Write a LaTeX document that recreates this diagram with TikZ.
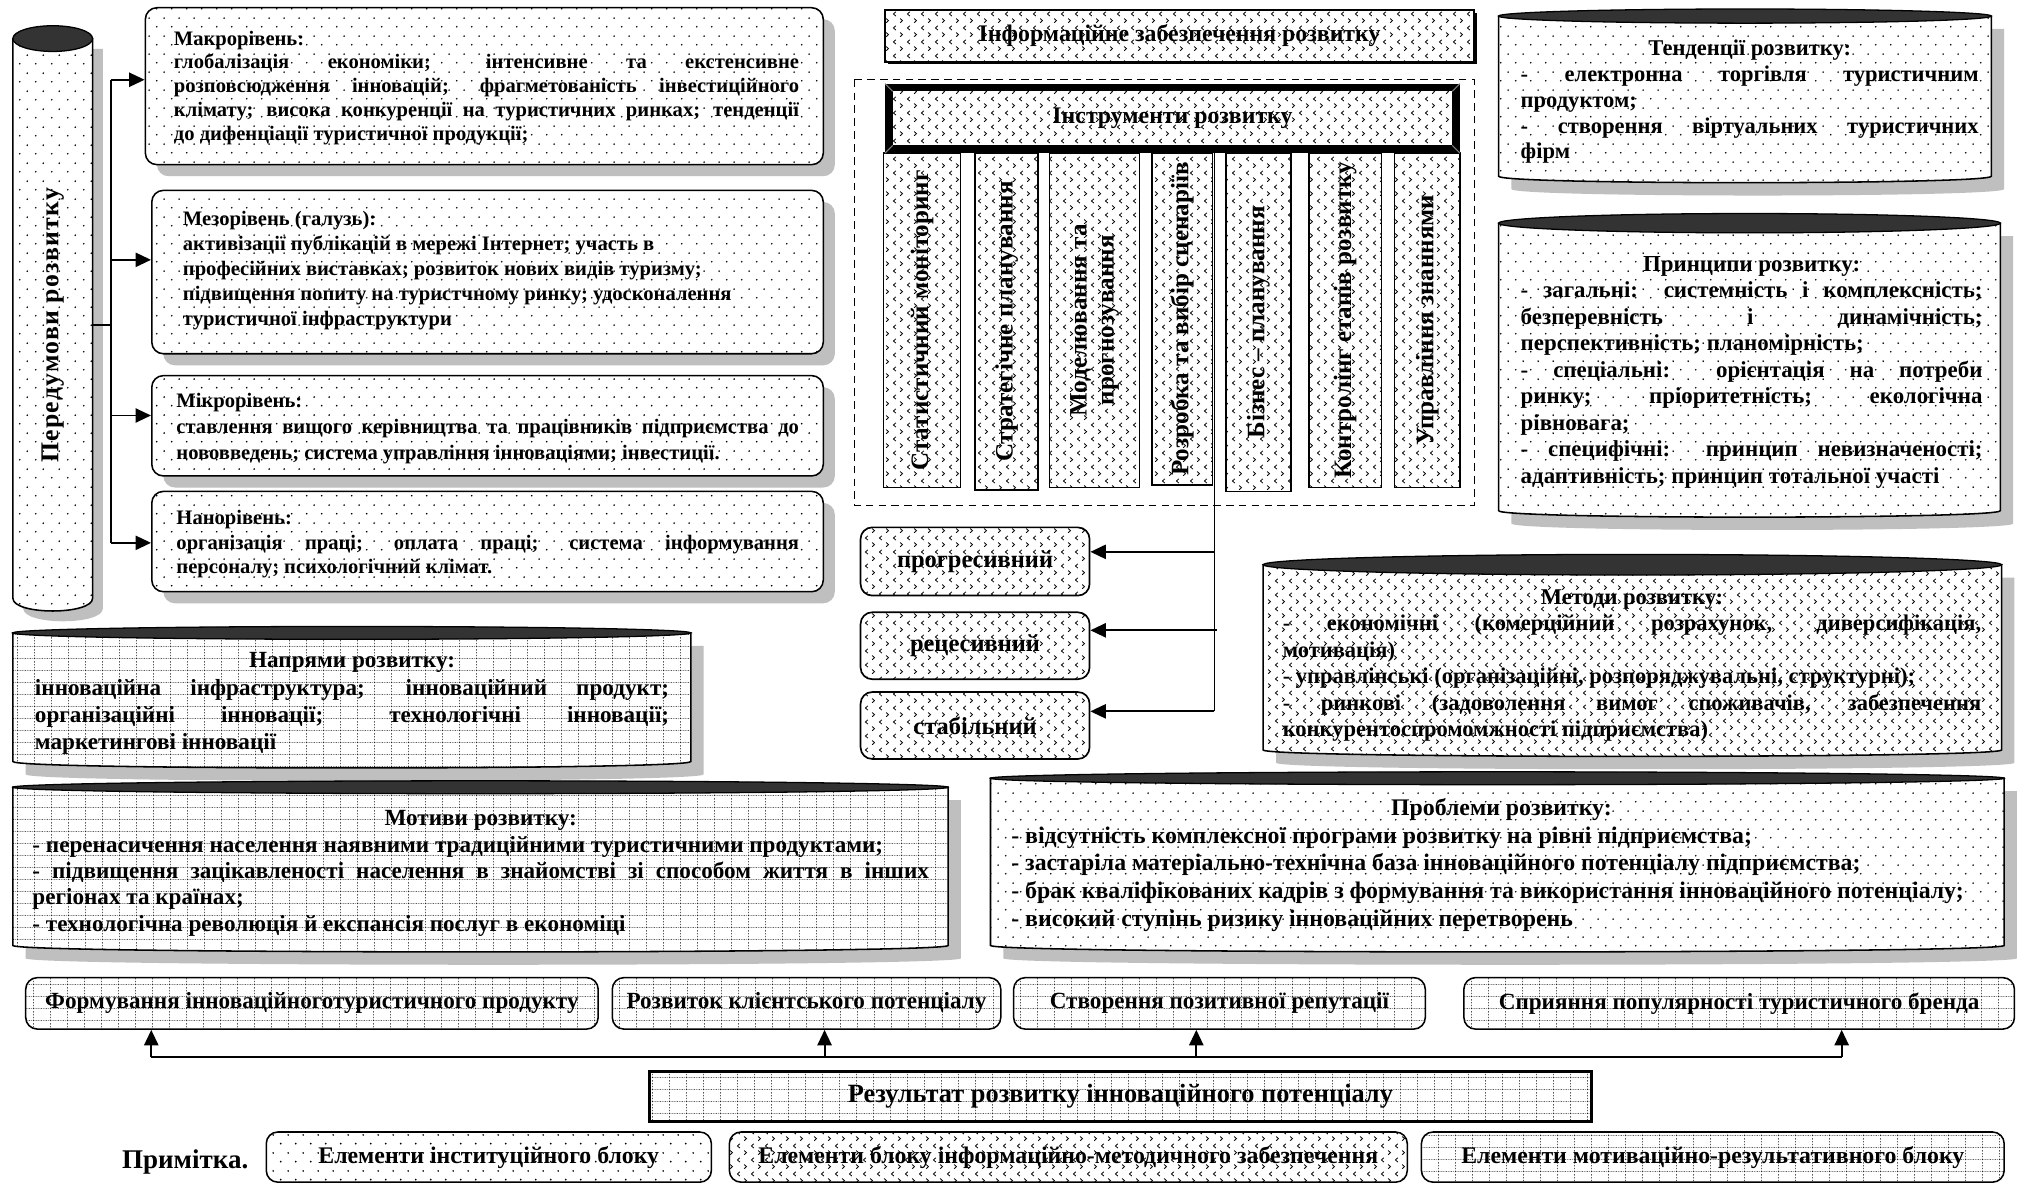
\documentclass[tikz,border=0pt]{standalone}
\usepackage{fontspec}
\setmainfont{Liberation Serif}
\usetikzlibrary{patterns,arrows.meta,shadows}
\definecolor{shadowgray}{gray}{0.75}
\definecolor{topdark}{gray}{0.2}
\newcommand{\fsz}[2]{\fontsize{#1pt}{#2pt}\selectfont}
\newcommand{\jtext}[2]{\parbox[t]{#1pt}{\setlength{\parindent}{0pt}\setlength{\parfillskip}{0pt plus 1fil}\hbadness=10000 #2}}
\pgfdeclarepatternformonly{dotpat}{\pgfqpoint{0pt}{0pt}}{\pgfqpoint{12pt}{14pt}}{\pgfqpoint{12pt}{14pt}}{%
  \pgfpathcircle{\pgfqpoint{3pt}{3.5pt}}{0.75pt}%
  \pgfpathcircle{\pgfqpoint{9pt}{10.5pt}}{0.75pt}%
  \pgfusepath{fill}}
\pgfdeclarepatternformonly{divot}{\pgfqpoint{0pt}{0pt}}{\pgfqpoint{11pt}{11pt}}{\pgfqpoint{11pt}{11pt}}{%
  \pgfsetlinewidth{0.65pt}%
  \pgfpathmoveto{\pgfqpoint{4pt}{10pt}}\pgfpathlineto{\pgfqpoint{2pt}{8.25pt}}\pgfpathlineto{\pgfqpoint{4pt}{6.5pt}}%
  \pgfpathmoveto{\pgfqpoint{7.5pt}{4.5pt}}\pgfpathlineto{\pgfqpoint{9.5pt}{2.75pt}}\pgfpathlineto{\pgfqpoint{7.5pt}{1pt}}%
  \pgfusepath{stroke}}
\pgfdeclarepatternformonly{dgrid}{\pgfqpoint{0pt}{0pt}}{\pgfqpoint{13pt}{9pt}}{\pgfqpoint{13pt}{9pt}}{%
  \pgfsetlinewidth{0.55pt}%
  \pgfsetdash{{0.6pt}{0.7pt}}{0pt}%
  \pgfpathmoveto{\pgfqpoint{0pt}{0.5pt}}\pgfpathlineto{\pgfqpoint{13pt}{0.5pt}}%
  \pgfusepath{stroke}%
  \pgfsetdash{{1.1pt}{1.15pt}}{0pt}%
  \pgfpathmoveto{\pgfqpoint{0.5pt}{0pt}}\pgfpathlineto{\pgfqpoint{0.5pt}{9pt}}%
  \pgfusepath{stroke}}
\newcommand{\drum}[6]{%
  \pgfmathsetmacro{\dcx}{(#1+#3)/2}%
  \pgfmathsetmacro{\drx}{(#3-#1)/2}%
  \pgfmathsetmacro{\dyt}{#2+#6}%
  \pgfmathsetmacro{\dyb}{#4-5}%
  \pgfmathsetmacro{\dyc}{#4+1.67}%
  \fill[shadowgray, xshift=10pt, yshift=-10pt] (#1,\dyt) -- (#1,\dyb) .. controls (#1,\dyc) and (#3,\dyc) .. (#3,\dyb) -- (#3,\dyt) -- cycle;
  \path[draw, line width=1.2pt, preaction={fill=white}, pattern=#5] (#1,\dyt) -- (#1,\dyb) .. controls (#1,\dyc) and (#3,\dyc) .. (#3,\dyb) -- (#3,\dyt) -- cycle;
  \filldraw[fill=topdark, line width=1pt] (\dcx,\dyt) ellipse [x radius=\drx, y radius=#6];
}
\begin{document}
\begin{tikzpicture}[x=1pt,y=-1pt,
  every node/.style={font=\bfseries, inner sep=0pt},
  shad/.style={drop shadow={shadow xshift=9pt, shadow yshift=-9pt, fill=shadowgray, opacity=1}},
  rbox/.style={draw, line width=1.2pt, rounded corners=9pt, preaction={fill=white}},
  bshad/.style={drop shadow={shadow xshift=2pt, shadow yshift=-2pt, fill=black, opacity=1}},
  sqbox/.style={draw, line width=1.3pt, preaction={fill=white}},
  colbox/.style={draw, line width=1pt, preaction={fill=white}, pattern=divot},
  coltext/.style={rotate=90, align=center, font=\bfseries\fsz{19.5}{21}},
  arr/.style={-{Triangle[length=12pt,width=11pt]}, line width=1.5pt},
  conn/.style={line width=1.5pt},
  thin/.style={line width=1pt},
]
\fill[white] (0,0) rectangle (1568,920);
\useasboundingbox (0,0) rectangle (1568,920);

% ---------- left cylinder ----------
\fill[shadowgray] (18,38) -- (18,473) .. controls (18,486.3) and (80,486.3) .. (80,473) -- (80,38) -- cycle;
\path[draw, line width=1.2pt, preaction={fill=white}, pattern=dotpat] (10,30) -- (10,465) .. controls (10,478.3) and (72,478.3) .. (72,465) -- (72,30) -- cycle;
\filldraw[fill=topdark, line width=1pt] (41,30) ellipse [x radius=31, y radius=10];
\node[rotate=90, font=\bfseries\fsz{20}{24}\addfontfeatures{LetterSpace=5}] (pered) at (41,253) {Передумови розвитку};

% ---------- level boxes ----------
\node[shad, rbox, pattern=dotpat, minimum width=527pt, minimum height=122pt] (macro) at (376.5,67) {};
\node[shad, rbox, pattern=dotpat, minimum width=522pt, minimum height=127pt] (meso) at (379,211.5) {};
\node[shad, rbox, pattern=dotpat, minimum width=522pt, minimum height=78pt] (micro) at (379,331) {};
\node[shad, rbox, pattern=dotpat, minimum width=522pt, minimum height=78pt] (nano) at (379,421) {};

\node[anchor=base west] (macrot) at (135,35) {\jtext{486}{\fsz{16}{18.5}Макрорівень:\\
глобалізація економіки; інтенсивне та екстенсивне\linebreak
розповсюдження інновацій; фрагметованість інвестиційного\linebreak
клімату; висока конкуренції на туристичних ринках; тенденції\linebreak
до дифенціації туристичної продукції;}};
\node[anchor=base west] (mesot) at (142,175) {\jtext{480}{\fsz{16}{19.5}Мезорівень (галузь):\\
активізації публікацій в мережі Інтернет; участь в\\
професійних виставках; розвиток нових видів туризму;\\
підвищення попиту на туристчному ринку; удосконалення\\
туристичної інфраструктури}};
\node[anchor=base west] (microt) at (137,317) {\jtext{484}{\fsz{16}{20}Мікрорівень:\\
ставлення вищого керівництва та працівників підприємства до\linebreak
нововведень; система управління інноваціями; інвестиції.}};
\node[anchor=base west] (nanot) at (137,408) {\jtext{484}{\fsz{16}{19}Нанорівень:\\
організація праці; оплата праці; система інформування\linebreak
персоналу; психологічний клімат.}};

% ---------- spine ----------
\coordinate (cylR) at (72,253);
\coordinate (sp0) at (86,253);
\coordinate (sp1) at (86,62);
\coordinate (sp2) at (86,202);
\coordinate (sp3) at (86,323);
\coordinate (sp4) at (86,422);
\draw[conn] (cylR) -- (sp0);
\draw[conn] (sp1) -- (sp4);
\draw[arr] (sp1) -- (macro.west |- sp1);
\draw[arr] (sp2) -- (meso.west |- sp2);
\draw[arr] (sp3) -- (micro.west |- sp3);
\draw[arr] (sp4) -- (nano.west |- sp4);

% ---------- drums ----------
\drum{10}{487}{537}{597}{dgrid}{5}
\node[anchor=base west] (napt) at (27,519) {\jtext{493}{\fsz{18}{21.3}\centerline{Напрями розвитку:}%
інноваційна інфраструктура; інноваційний продукт;\linebreak
організаційні інновації; технологічні інновації;\linebreak
маркетингові інновації}};

\drum{10}{607}{737}{740}{dgrid}{5}
\node[anchor=base west] (mott) at (25,642) {\jtext{697}{\fsz{18}{20.5}\centerline{Мотиви розвитку:}%
- перенасичення населення наявними традиційними туристичними продуктами;\\
- підвищення зацікавленості населення в знайомстві зі способом життя в інших\linebreak
регіонах та країнах;\\
- технологічна революція й експансія послуг в економіці}};

\drum{1165}{7}{1548}{142}{dotpat}{5.5}
\node[anchor=base west] (tent) at (1182,43.5) {\jtext{356}{\fsz{17.5}{20}\centerline{Тенденції розвитку:}%
- електронна торгівля туристичним\linebreak
продуктом;\\
- створення віртуальних туристичних\linebreak
фірм}};

\drum{1165}{166}{1555}{402}{dotpat}{7.5}
\node[anchor=base west] (prt) at (1182,211) {\jtext{359}{\fsz{17.8}{20.6}\centerline{Принципи розвитку:}%
- загальні: системність і комплексність;\linebreak
безперевність і динамічність;\linebreak
перспективність; планомірність;\\
- спеціальні: орієнтація на потреби\linebreak
ринку; пріоритетність; екологічна\linebreak
рівновага;\\
- специфічні: принцип невизначеності;\linebreak
адаптивність; принцип тотальної участі}};

\drum{982}{431}{1556}{588}{divot}{8}
\node[anchor=base west] (mett) at (997,470) {\jtext{543}{\fsz{17.5}{20.5}\centerline{Методи розвитку:}%
- економічні (комерційний розрахунок, диверсифікація,\linebreak
мотивація)\\
- управлінські (організаційні, розпоряджувальні, структурні);\\
- ринкові (задоволення вимог споживачів, забезпечення\linebreak
конкурентоспромомжності підприємства)}};

\drum{770}{600}{1558}{740}{dotpat}{5}
\node[anchor=base west] (probt) at (786,634) {\jtext{762}{\fsz{18.5}{21.5}\centerline{Проблеми розвитку:}%
- відсутність комплексної програми розвитку на рівні підприємства;\\
- застаріла матеріально-технічна база інноваційного потенціалу підприємства;\\
- брак кваліфікованих кадрів з формування та використання інноваційного потенціалу;\\
- високий ступінь ризику інноваційних перетворень}};

% ---------- centre block ----------
\node[bshad, sqbox, pattern=divot, minimum width=458pt, minimum height=40pt, font=\bfseries\fsz{18.5}{20}] (info) at (917,28) {Інформаційне забезпечення розвитку};
\draw[thin, dash pattern=on 6pt off 4pt] (664,62) rectangle (1146,393);

\node[colbox, minimum width=59.5pt, minimum height=260pt] (c1) at (716.75,249) {};
\node[colbox, minimum width=49pt, minimum height=262pt] (c2) at (782.5,250) {};
\node[colbox, minimum width=70pt, minimum height=260pt] (c3) at (851,249) {};
\node[colbox, minimum width=47pt, minimum height=258pt] (c4) at (919,248) {};
\node[colbox, minimum width=50.5pt, minimum height=263pt] (c5) at (978.25,250.5) {};
\node[colbox, minimum width=56.5pt, minimum height=260pt] (c6) at (1045.75,249) {};
\node[colbox, minimum width=51pt, minimum height=260pt] (c7) at (1109.5,249) {};
\node[coltext] (t1) at (c1.center) {Статистичний моніторинг};
\node[coltext] (t2) at (c2.center) {Стратегічне планування};
\node[coltext] (t3) at (c3.center) {Моделювання та\\прогнозування};
\node[coltext] (t4) at (c4.center) {Розробка та вибір сценаріїв};
\node[coltext] (t5) at (c5.center) {Бізнес – планування};
\node[coltext] (t6) at (c6.center) {Контролінг етапів розвитку};
\node[coltext] (t7) at (c7.center) {Управління знаннями};

\node[draw=black, line width=6pt, preaction={fill=white}, pattern=divot, minimum width=441pt, minimum height=48pt, font=\bfseries\fsz{18.5}{20}] (hdr) at (911.5,92) {Інструменти розвитку};
\draw[gray, line width=0.8pt] (688,65) -- (694,71) (1135,65) -- (1129,71) (688,119) -- (694,113) (1135,119) -- (1129,113);

\node[rbox, line width=1.3pt, pattern=divot, minimum width=178pt, minimum height=53pt, font=\bfseries\fsz{19}{21}] (prog) at (758,436.5) {прогресивний};
\node[rbox, line width=1.3pt, pattern=divot, minimum width=178pt, minimum height=52pt, font=\bfseries\fsz{19}{21}] (rec) at (758,502) {рецесивний};
\node[rbox, line width=1.3pt, pattern=divot, minimum width=178pt, minimum height=52pt, font=\bfseries\fsz{19}{21}] (stab) at (758,564) {стабільний};

\coordinate (v1) at (944,429);
\coordinate (v2) at (946,490);
\coordinate (v3) at (944,553);
\draw[thin] (hdr.south -| v1) -- (v3);
\draw[arr] (v1) -- (prog.east |- v1);
\draw[arr] (v2) -- (rec.east |- v2);
\draw[arr] (v3) -- (stab.east |- v3);

% ---------- bottom row ----------
\node[rbox, pattern=dgrid, minimum width=445pt, minimum height=40pt, font=\bfseries\fsz{18}{20}] (f1) at (242.5,780) {Формування інноваційноготуристичного продукту};
\node[rbox, pattern=dgrid, minimum width=302pt, minimum height=40pt, font=\bfseries\fsz{18}{20}] (f2) at (627,780) {Розвиток клієнтського потенціалу};
\node[rbox, pattern=dgrid, minimum width=320pt, minimum height=40pt, font=\bfseries\fsz{18}{20}] (f3) at (948,780) {Створення позитивної репутації};
\node[rbox, pattern=dgrid, minimum width=428pt, minimum height=40pt, font=\bfseries\fsz{18}{20}] (f4) at (1352,780) {Сприяння популярності туристичного бренда};

\coordinate (b1) at (117.6,822);
\coordinate (b2) at (641,822);
\coordinate (b3) at (930,822);
\coordinate (b4) at (1431.7,822);
\draw[conn] (b1) -- (b4);
\draw[arr] (b1) -- (b1 |- f1.south);
\draw[arr] (b2) -- (b2 |- f2.south);
\draw[arr] (b3) -- (b3 |- f3.south);
\draw[arr] (b4) -- (b4 |- f4.south);

\node[draw, line width=2.4pt, preaction={fill=white}, pattern=dgrid, minimum width=732pt, minimum height=39pt, font=\bfseries\fsz{20.5}{22}] (res) at (871,852.5) {Результат розвитку інноваційного потенціалу};

% ---------- legend ----------
\node[font=\bfseries\fsz{21}{23}] (note) at (144,903) {Примітка.};
\node[rbox, pattern=dotpat, minimum width=346pt, minimum height=39pt, font=\bfseries\fsz{18.5}{20}] (l1) at (380,899.5) {Елементи інституційного блоку};
\node[rbox, pattern=divot, minimum width=527pt, minimum height=39pt, font=\bfseries\fsz{18.5}{20}] (l2) at (830.5,899.5) {Елементи блоку інформаційно-методичного забезпечення};
\node[rbox, pattern=dgrid, minimum width=453pt, minimum height=39pt, font=\bfseries\fsz{18.5}{20}] (l3) at (1331.5,899.5) {Елементи мотиваційно-результативного блоку};
\end{tikzpicture}
\end{document}
